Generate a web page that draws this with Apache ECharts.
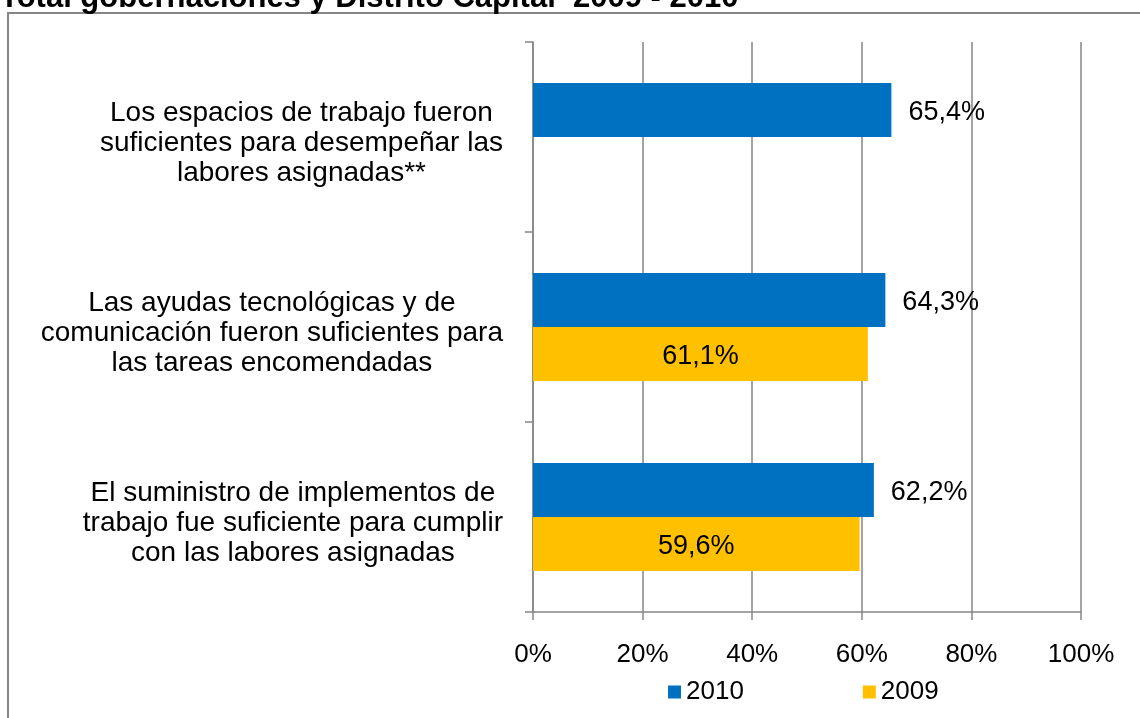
<!DOCTYPE html>
<html style="height: 100%">
<head>
    <meta charset="utf-8">
</head>
<body style="height: 100%; margin: 0">
<div id="container" style="width: 1140px; height: 718px"></div>
<script type="text/javascript" src="https://cdn.jsdelivr.net/npm/echarts@6/dist/echarts.min.js"></script>
<script type="text/javascript">
    var dom = document.getElementById("container");
    var myChart = echarts.init(dom);
    var option;

    // categorias de abajo hacia arriba (eje y de ECharts)
    var categories = [
        'El suministro de implementos de\ntrabajo fue suficiente para cumplir\ncon las labores asignadas',
        'Las ayudas tecnológicas y de\ncomunicación fueron suficientes para\nlas tareas encomendadas',
        'Los espacios de trabajo fueron\nsuficientes para desempeñar las\nlabores asignadas**'
    ];
    var seriesNames = ['2010', '2009'];
    var values2010 = [62.2, 64.3, 65.4];
    var values2009 = [59.6, 61.1, null];
    var xTicks = [0, 20, 40, 60, 80, 100];

    var font = 'Liberation Sans, Arial, sans-serif';
    var gray = '#868686';

    function pct(p) {
        return p.value.toFixed(1).replace('.', ',') + '%';
    }

    option = {
        textStyle: {fontFamily: font},
        title: {
            text: 'Total gobernaciones y Distrito Capital  2009 - 2010',
            left: 0,
            top: -17,
            padding: 0,
            textStyle: {fontSize: 31, fontWeight: 'bold', color: '#000', fontFamily: font}
        },
        graphic: [{
            type: 'rect',
            shape: {x: 8, y: 13, width: 1200, height: 800},
            style: {fill: null, stroke: gray, lineWidth: 2},
            silent: true
        }],
        legend: {
            data: seriesNames,
            left: 663,
            top: 674,
            icon: 'rect',
            itemWidth: 13,
            itemHeight: 13,
            itemGap: 119,
            textStyle: {fontSize: 26, color: '#000', fontFamily: font}
        },
        grid: {left: 533, right: 59, top: 42, bottom: 106},
        xAxis: {
            type: 'value',
            min: 0,
            max: 100,
            interval: 20,
            axisLine: {show: true, lineStyle: {color: gray, width: 1.5}},
            axisTick: {show: true, length: 8, lineStyle: {color: gray, width: 1.5}},
            splitLine: {show: true, lineStyle: {color: gray, width: 1.5}},
            axisLabel: {
                margin: 30,
                fontSize: 26,
                color: '#000',
                formatter: function (v) { return xTicks.indexOf(v) >= 0 ? v + '%' : ''; }
            }
        },
        yAxis: {
            type: 'category',
            data: categories,
            axisLine: {show: true, lineStyle: {color: gray, width: 1.5}},
            axisTick: {show: true, length: 8, lineStyle: {color: gray, width: 1.5}},
            axisLabel: {
                margin: 30,
                align: 'right',
                fontSize: 28,
                lineHeight: 30,
                padding: [12, 0, 0, 0],
                color: '#000',
                formatter: function (v) {
                    return v.split('\n').map(function (l) { return '{c|' + l + '}'; }).join('\n');
                },
                rich: {c: {align: 'center', fontSize: 28, lineHeight: 30, color: '#000', fontFamily: font}}
            }
        },
        series: [{
            type: 'bar',
            name: '2010',
            data: values2010,
            barWidth: 54,
            barGap: '0%',
            itemStyle: {color: '#0070C0'},
            label: {show: true, position: 'right', distance: 17, offset: [0, 3], fontSize: 27, color: '#000', formatter: pct}
        }, {
            type: 'bar',
            name: '2009',
            data: values2009,
            barWidth: 54,
            barGap: '0%',
            itemStyle: {color: '#FFC000'},
            label: {show: true, position: 'inside', offset: [0, 3], fontSize: 27, color: '#000', formatter: pct}
        }]
    };
    if (option && typeof option === 'object') {
        myChart.setOption(option);
    }
</script>
</body>
</html>
